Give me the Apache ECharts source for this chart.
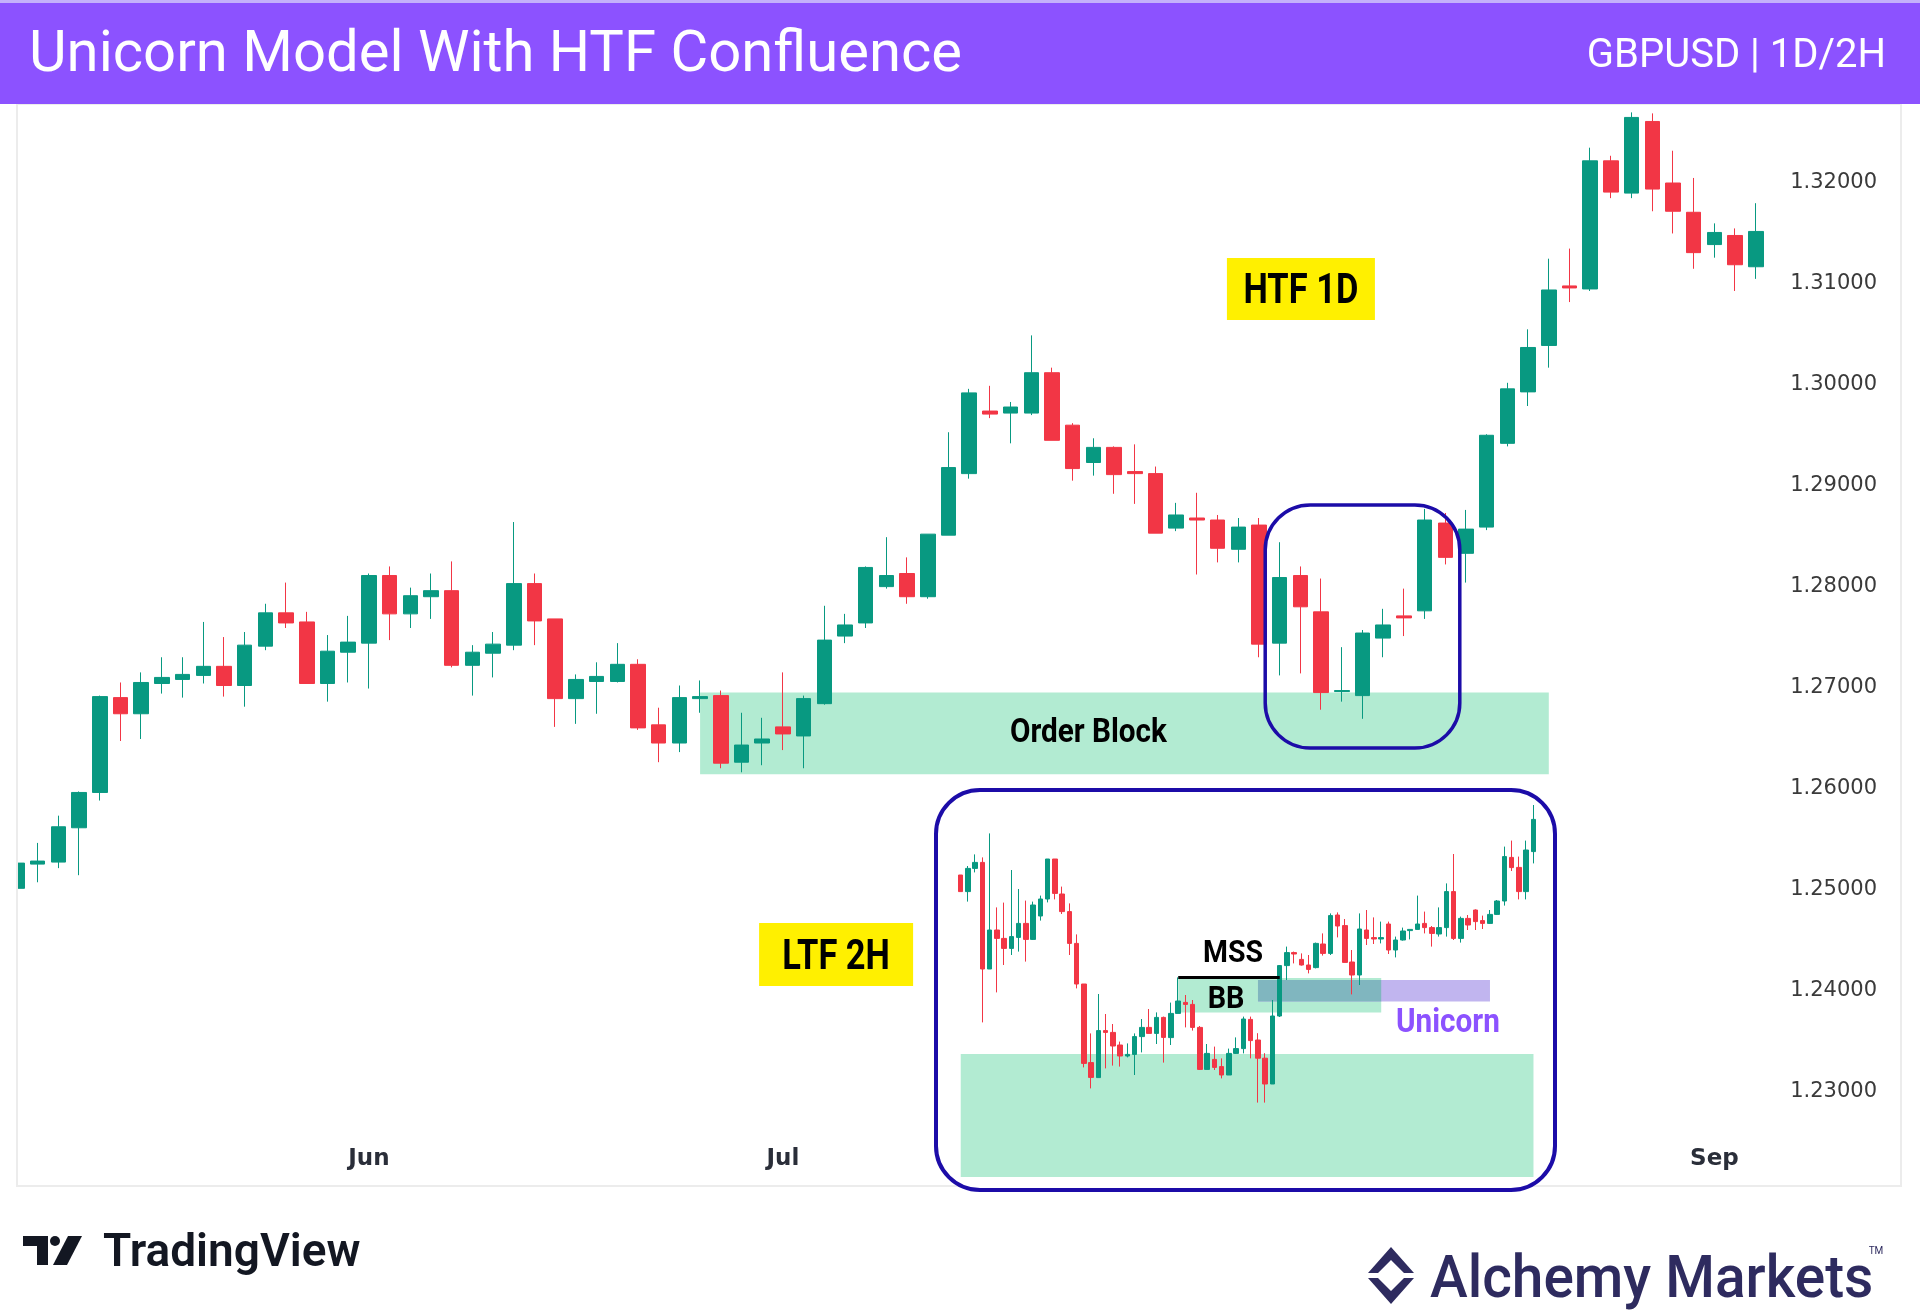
<!DOCTYPE html>
<html>
<head>
<meta charset="utf-8">
<title>Unicorn Model With HTF Confluence</title>
<script src="https://cdn.jsdelivr.net/npm/echarts@6/dist/echarts.min.js"></script>
<style>
  html, body { margin: 0; padding: 0; background: #ffffff; }
  #chart { width: 1920px; height: 1314px; }
</style>
</head>
<body>
<div id="chart"></div>
<script>
'use strict';

// GBPUSD daily, [open, close, low, high], starting 2024-05-09 (weekdays only)
var dailyCandles = [
    [1.2497, 1.2522, 1.2490, 1.2525], [1.2521, 1.2524, 1.2503, 1.2542], [1.2523, 1.2558, 1.2517, 1.2569],
    [1.2557, 1.2592, 1.2510, 1.2593], [1.2592, 1.2687, 1.2584, 1.2688], [1.2686, 1.2670, 1.2643, 1.2701],
    [1.2670, 1.2701, 1.2645, 1.2711], [1.2700, 1.2706, 1.2690, 1.2726], [1.2704, 1.2709, 1.2686, 1.2726],
    [1.2708, 1.2717, 1.2700, 1.2761], [1.2717, 1.2698, 1.2687, 1.2746], [1.2698, 1.2738, 1.2677, 1.2751],
    [1.2737, 1.2770, 1.2733, 1.2779], [1.2770, 1.2760, 1.2755, 1.2800], [1.2761, 1.2700, 1.2700, 1.2771],
    [1.2700, 1.2732, 1.2682, 1.2748], [1.2731, 1.2741, 1.2701, 1.2767], [1.2740, 1.2807, 1.2695, 1.2809],
    [1.2807, 1.2769, 1.2743, 1.2816], [1.2769, 1.2787, 1.2755, 1.2795], [1.2786, 1.2792, 1.2764, 1.2809],
    [1.2792, 1.2718, 1.2716, 1.2821], [1.2718, 1.2731, 1.2688, 1.2738], [1.2730, 1.2739, 1.2706, 1.2751],
    [1.2738, 1.2799, 1.2733, 1.2860], [1.2799, 1.2762, 1.2738, 1.2809], [1.2764, 1.2685, 1.2657, 1.2764],
    [1.2685, 1.2704, 1.2660, 1.2709], [1.2702, 1.2707, 1.2670, 1.2721], [1.2702, 1.2719, 1.2701, 1.2740],
    [1.2719, 1.2656, 1.2654, 1.2724], [1.2659, 1.2641, 1.2622, 1.2676], [1.2641, 1.2686, 1.2632, 1.2698],
    [1.2685, 1.2687, 1.2671, 1.2703], [1.2688, 1.2621, 1.2616, 1.2693], [1.2622, 1.2639, 1.2612, 1.2671],
    [1.2641, 1.2645, 1.2619, 1.2666], [1.2657, 1.2650, 1.2634, 1.2711], [1.2648, 1.2685, 1.2616, 1.2688],
    [1.2680, 1.2743, 1.2679, 1.2777], [1.2747, 1.2758, 1.2740, 1.2769], [1.2760, 1.2815, 1.2755, 1.2816],
    [1.2796, 1.2807, 1.2794, 1.2845], [1.2809, 1.2786, 1.2779, 1.2825], [1.2786, 1.2848, 1.2784, 1.2848],
    [1.2847, 1.2914, 1.2847, 1.2949], [1.2908, 1.2988, 1.2903, 1.2992], [1.2970, 1.2967, 1.2963, 1.2995],
    [1.2968, 1.2974, 1.2938, 1.2979], [1.2968, 1.3008, 1.2966, 1.3045], [1.3008, 1.2941, 1.2941, 1.3013],
    [1.2956, 1.2913, 1.2901, 1.2958], [1.2919, 1.2934, 1.2906, 1.2943], [1.2934, 1.2907, 1.2888, 1.2935],
    [1.2910, 1.2908, 1.2878, 1.2937], [1.2908, 1.2849, 1.2849, 1.2915], [1.2854, 1.2867, 1.2851, 1.2879],
    [1.2864, 1.2862, 1.2808, 1.2889], [1.2862, 1.2834, 1.2820, 1.2867], [1.2833, 1.2855, 1.2820, 1.2864],
    [1.2857, 1.2739, 1.2726, 1.2864], [1.2740, 1.2805, 1.2708, 1.2840], [1.2807, 1.2776, 1.2710, 1.2816],
    [1.2771, 1.2691, 1.2674, 1.2804], [1.2692, 1.2693, 1.2682, 1.2736], [1.2688, 1.2750, 1.2665, 1.2753],
    [1.2745, 1.2758, 1.2726, 1.2774], [1.2767, 1.2765, 1.2747, 1.2794], [1.2772, 1.2862, 1.2764, 1.2873],
    [1.2859, 1.2825, 1.2818, 1.2869], [1.2829, 1.2853, 1.2800, 1.2872], [1.2855, 1.2946, 1.2852, 1.2947],
    [1.2938, 1.2992, 1.2935, 1.2998], [1.2989, 1.3033, 1.2975, 1.3051], [1.3035, 1.3090, 1.3013, 1.3121],
    [1.3094, 1.3092, 1.3078, 1.3131], [1.3091, 1.3218, 1.3089, 1.3231], [1.3218, 1.3187, 1.3181, 1.3223],
    [1.3186, 1.3261, 1.3181, 1.3266], [1.3257, 1.3190, 1.3168, 1.3265], [1.3196, 1.3168, 1.3146, 1.3228],
    [1.3167, 1.3127, 1.3111, 1.3201], [1.3135, 1.3147, 1.3122, 1.3156], [1.3144, 1.3115, 1.3089, 1.3151],
    [1.3113, 1.3148, 1.3101, 1.3176]
];

// 2H inset, [open, close, low, high]
var hourlyCandles = [
    [1.27795, 1.27712, 1.27712, 1.27795], [1.27712, 1.27828, 1.27662, 1.27840], [1.27828, 1.27858, 1.27808, 1.27898],
    [1.27858, 1.27325, 1.27058, 1.27883], [1.27325, 1.27520, 1.27325, 1.28003], [1.27520, 1.27478, 1.27208, 1.27633],
    [1.27478, 1.27428, 1.27345, 1.27657], [1.27428, 1.27487, 1.27395, 1.27820], [1.27483, 1.27553, 1.27412, 1.27725],
    [1.27553, 1.27473, 1.27362, 1.27667], [1.27473, 1.27645, 1.27470, 1.27662], [1.27590, 1.27675, 1.27567, 1.27692],
    [1.27675, 1.27875, 1.27658, 1.27875], [1.27875, 1.27703, 1.27673, 1.27875], [1.27700, 1.27612, 1.27600, 1.27737],
    [1.27612, 1.27453, 1.27395, 1.27653], [1.27453, 1.27250, 1.27228, 1.27498], [1.27250, 1.26853, 1.26833, 1.27250],
    [1.26857, 1.26783, 1.26728, 1.27003], [1.26782, 1.27017, 1.26782, 1.27200], [1.27017, 1.27008, 1.26828, 1.27100],
    [1.27008, 1.26940, 1.26842, 1.27050], [1.26945, 1.26890, 1.26837, 1.26962], [1.26890, 1.26898, 1.26883, 1.26953],
    [1.26898, 1.26987, 1.26795, 1.27003], [1.26987, 1.27033, 1.26908, 1.27075], [1.27033, 1.27003, 1.27003, 1.27125],
    [1.27003, 1.27083, 1.26950, 1.27108], [1.27083, 1.26983, 1.26857, 1.27087], [1.26982, 1.27103, 1.26945, 1.27157],
    [1.27103, 1.27165, 1.27103, 1.27283], [1.27158, 1.27148, 1.27033, 1.27195], [1.27148, 1.27033, 1.27017, 1.27170],
    [1.27033, 1.26823, 1.26820, 1.27040], [1.26823, 1.26903, 1.26823, 1.26950], [1.26873, 1.26833, 1.26820, 1.26937],
    [1.26837, 1.26795, 1.26778, 1.26878], [1.26795, 1.26903, 1.26795, 1.26927], [1.26903, 1.26927, 1.26900, 1.26983],
    [1.26927, 1.27075, 1.26903, 1.27087], [1.27073, 1.26967, 1.26878, 1.27087], [1.26970, 1.26879, 1.26657, 1.27004],
    [1.26879, 1.26750, 1.26657, 1.26904], [1.26750, 1.27090, 1.26750, 1.27170], [1.27090, 1.27342, 1.27085, 1.27345],
    [1.27342, 1.27407, 1.27270, 1.27437], [1.27407, 1.27400, 1.27353, 1.27412], [1.27373, 1.27345, 1.27342, 1.27403],
    [1.27345, 1.27323, 1.27303, 1.27395], [1.27332, 1.27453, 1.27328, 1.27457], [1.27450, 1.27403, 1.27392, 1.27503],
    [1.27403, 1.27592, 1.27395, 1.27603], [1.27595, 1.27540, 1.27483, 1.27608], [1.27542, 1.27358, 1.27358, 1.27575],
    [1.27360, 1.27295, 1.27198, 1.27420], [1.27295, 1.27525, 1.27245, 1.27603], [1.27520, 1.27478, 1.27445, 1.27620],
    [1.27482, 1.27475, 1.27450, 1.27583], [1.27475, 1.27482, 1.27453, 1.27562], [1.27550, 1.27420, 1.27400, 1.27562],
    [1.27420, 1.27470, 1.27383, 1.27487], [1.27470, 1.27515, 1.27467, 1.27532], [1.27517, 1.27523, 1.27473, 1.27523],
    [1.27523, 1.27550, 1.27523, 1.27692], [1.27553, 1.27532, 1.27503, 1.27612], [1.27532, 1.27503, 1.27437, 1.27540],
    [1.27500, 1.27532, 1.27487, 1.27633], [1.27532, 1.27712, 1.27487, 1.27753], [1.27712, 1.27478, 1.27470, 1.27900],
    [1.27478, 1.27578, 1.27457, 1.27587], [1.27578, 1.27545, 1.27520, 1.27595], [1.27620, 1.27562, 1.27520, 1.27623],
    [1.27567, 1.27553, 1.27525, 1.27592], [1.27553, 1.27598, 1.27550, 1.27620], [1.27598, 1.27665, 1.27595, 1.27670],
    [1.27665, 1.27887, 1.27642, 1.27937], [1.27883, 1.27832, 1.27815, 1.27967], [1.27833, 1.27712, 1.27673, 1.27887],
    [1.27712, 1.27920, 1.27673, 1.27967], [1.27912, 1.28073, 1.27853, 1.28145]
];

var monthNames = ['Jan', 'Feb', 'Mar', 'Apr', 'May', 'Jun', 'Jul', 'Aug', 'Sep', 'Oct', 'Nov', 'Dec'];

// zones: [fromIndex, toIndex, topPrice, bottomPrice]
var orderBlock = [33, 74, 1.2691, 1.2610];
var insetOrderBlock = [0, 79, 1.2690, 1.26285];
var breakerBlock = [30, 58, 1.2728, 1.27107];
var fairValueGap = [41, 73, 1.2727, 1.27162];
var unicornZone = [41, 58, 1.2727, 1.27162];
var mssLevel = [30, 44, 1.27283];

var UP = '#089981';
var DOWN = '#f23645';
var MINT = '#b2ebd2';
var BLUE = '#1c0ca8';
var PURPLE = '#8c52ff';

var dates = [];
(function () {
    var d = new Date(Date.UTC(2024, 4, 9));
    while (dates.length < dailyCandles.length) {
        var wd = d.getUTCDay();
        if (wd !== 0 && wd !== 6) {
            dates.push(d.toISOString().slice(0, 10));
        }
        d.setUTCDate(d.getUTCDate() + 1);
    }
})();

var hours = [];
for (var h = 0; h < hourlyCandles.length; h++) {
    hours.push('b' + h);
}

function zoneItem(z, color) {
    return [
        {xAxis: z[0], yAxis: z[2], itemStyle: {color: color}},
        {xAxis: z[1], yAxis: z[3]}
    ];
}

var chart = echarts.init(document.getElementById('chart'), null, {renderer: 'canvas'});

var option = {
    animation: false,
    backgroundColor: '#ffffff',
    grid: [
        {left: 6.65, right: 153.85, top: 103.3, bottom: 126},
        {left: 957.1, right: 382.9, top: 800, bottom: 134}
    ],
    xAxis: [
        {
            type: 'category',
            gridIndex: 0,
            data: dates,
            axisLine: {show: false},
            axisTick: {show: false},
            splitLine: {show: false},
            axisLabel: {
                inside: true,
                margin: 17,
                interval: 0,
                color: '#2a2e39',
                fontFamily: 'DejaVu Sans',
                fontWeight: 'bold',
                fontSize: 23,
                formatter: function (value, index) {
                    if (index === 0) {
                        return '';
                    }
                    var m = +value.slice(5, 7);
                    var prev = +dates[index - 1].slice(5, 7);
                    return m !== prev ? monthNames[m - 1] : '';
                }
            }
        },
        {
            type: 'category',
            gridIndex: 1,
            data: hours,
            show: false
        }
    ],
    yAxis: [
        {
            type: 'value',
            gridIndex: 0,
            position: 'right',
            min: 1.22,
            max: 1.3275,
            interval: 0.01,
            splitLine: {show: false},
            axisLine: {show: false},
            axisTick: {show: false},
            axisLabel: {
                margin: 24,
                verticalAlign: 'top',
                lineHeight: 8,
                color: '#3a3a3a',
                fontFamily: 'DejaVu Sans',
                fontSize: 21,
                formatter: function (v) {
                    if (v < 1.225 || v > 1.325) {
                        return '';
                    }
                    return v.toFixed(5);
                }
            }
        },
        {
            type: 'value',
            gridIndex: 1,
            min: 1.2627,
            max: 1.2817,
            show: false
        }
    ],
    series: [
        {
            name: 'GBPUSD 1D',
            type: 'candlestick',
            xAxisIndex: 0,
            yAxisIndex: 0,
            data: dailyCandles,
            barWidth: 15,
            itemStyle: {color: UP, color0: DOWN, borderColor: UP, borderColor0: DOWN, borderWidth: 1},
            markArea: {
                silent: true,
                z: 1,
                data: [zoneItem(orderBlock, MINT)]
            }
        },
        {
            name: 'GBPUSD 2H',
            type: 'candlestick',
            xAxisIndex: 1,
            yAxisIndex: 1,
            z: 20,
            data: hourlyCandles,
            barWidth: 5,
            itemStyle: {color: UP, color0: DOWN, borderColor: UP, borderColor0: DOWN, borderWidth: 1},
            markArea: {
                silent: true,
                z: 12,
                data: [
                    zoneItem(insetOrderBlock, MINT),
                    zoneItem(breakerBlock, MINT),
                    zoneItem(fairValueGap, '#c1b5ef'),
                    zoneItem(unicornZone, '#80b6bf')
                ]
            },
            markLine: {
                silent: true,
                z: 21,
                symbol: ['none', 'none'],
                label: {show: false},
                lineStyle: {color: '#000000', width: 3, type: 'solid'},
                data: [[
                    {coord: [mssLevel[0], mssLevel[2]]},
                    {coord: [mssLevel[1], mssLevel[2]]}
                ]]
            }
        }
    ]
};

chart.setOption(option);

function place(gridIndex, xIdx, price) {
    var a = chart.convertToPixel({gridIndex: gridIndex}, [0, price]);
    var b = chart.convertToPixel({gridIndex: gridIndex}, [1, price]);
    return [a[0] + xIdx * (b[0] - a[0]), a[1]];
}

function boxBetween(gridIndex, x0, p0, x1, p1) {
    var a = place(gridIndex, x0, p0);
    var b = place(gridIndex, x1, p1);
    return {x: a[0], y: a[1], width: b[0] - a[0], height: b[1] - a[1]};
}

// Roboto 'middle' sits a few px high of the cap centre, hence the +4
function label(pos, text, size, color, sx, z) {
    return {
        type: 'text',
        x: pos[0],
        y: pos[1] + 4,
        scaleX: sx,
        z: z,
        style: {
            text: text,
            font: 'bold ' + size + 'px Roboto',
            fill: color,
            align: 'center',
            verticalAlign: 'middle',
            textAlign: 'center',
            textVerticalAlign: 'middle'
        }
    };
}

function plainText(x, y, text, font, color, align, sx) {
    return {
        type: 'text', z: 51, x: x, y: y, scaleX: sx || 1,
        style: {text: text, font: font, fill: color,
            align: align, verticalAlign: 'middle', textAlign: align, textVerticalAlign: 'middle'}
    };
}

var htfBox = boxBetween(0, 58.45, 1.31217, 65.6, 1.30603);
var ltfBox = boxBetween(0, 35.85, 1.24626, 43.29, 1.24002);
var dailyFocus = boxBetween(0, 60.3, 1.2877, 69.7, 1.2636);

var graphics = [
    // chart frame and clip of the first bar
    {type: 'rect', z: 9, shape: {x: 0, y: 104, width: 17, height: 1084}, style: {fill: '#ffffff'}},
    {type: 'rect', z: 9, shape: {x: 17, y: 104, width: 1884, height: 1082}, style: {fill: 'none', stroke: '#ececec', lineWidth: 2}},

    // header
    {type: 'rect', z: 50, shape: {x: 0, y: 0, width: 1920, height: 104}, style: {fill: PURPLE}},
    {type: 'rect', z: 50, shape: {x: 0, y: 0, width: 1920, height: 3}, style: {fill: '#c4b0fb'}},
    plainText(29, 56, 'Unicorn Model With HTF Confluence', '58px Roboto', '#ffffff', 'left'),
    plainText(1886, 57, 'GBPUSD | 1D/2H', '40px Roboto', '#ffffff', 'right'),

    // annotations on daily chart
    label(place(0, 51.76, 1.26539), 'Order Block', 33, '#000000', 0.9, 6),
    {type: 'rect', z: 5, shape: htfBox, style: {fill: '#fff000'}},
    label([htfBox.x + htfBox.width / 2, htfBox.y + htfBox.height / 2], 'HTF 1D', 42, '#000000', 0.82, 6),
    {type: 'rect', z: 5, shape: ltfBox, style: {fill: '#fff000'}},
    label([ltfBox.x + ltfBox.width / 2, ltfBox.y + ltfBox.height / 2], 'LTF 2H', 42, '#000000', 0.82, 6),
    {
        type: 'rect', z: 8,
        shape: {x: dailyFocus.x, y: dailyFocus.y, width: dailyFocus.width, height: dailyFocus.height, r: 45},
        style: {fill: 'none', stroke: BLUE, lineWidth: 3.5}
    },

    // 2H inset panel
    {
        type: 'rect', z: 10,
        shape: {x: 936, y: 790, width: 619, height: 400, r: 44},
        style: {fill: '#ffffff', stroke: BLUE, lineWidth: 4}
    },
    label(place(1, 37.56, 1.2742), 'MSS', 32, '#000000', 0.89, 30),
    label(place(1, 36.6, 1.2719), 'BB', 32, '#000000', 0.9, 30),
    label(place(1, 67.2, 1.2707), 'Unicorn', 33, PURPLE, 0.9, 30),

    // TradingView logo
    {type: 'polygon', z: 5, shape: {points: [[23, 1236], [48, 1236], [48, 1265], [37, 1265], [37, 1246], [23, 1246]]}, style: {fill: '#131722'}},
    {type: 'circle', z: 5, shape: {cx: 55, cy: 1241, r: 5}, style: {fill: '#131722'}},
    {type: 'polygon', z: 5, shape: {points: [[68, 1236], [82, 1236], [67, 1265], [53, 1265]]}, style: {fill: '#131722'}},
    plainText(103, 1254, 'TradingView', '600 46px Roboto', '#131722', 'left'),

    // Alchemy Markets logo
    {type: 'polygon', z: 5, shape: {points: [[1391, 1247], [1414, 1273], [1404, 1273], [1391, 1260], [1378, 1273], [1368, 1273]]}, style: {fill: '#2e2b5f'}},
    {type: 'polygon', z: 5, shape: {points: [[1368, 1278], [1378, 1278], [1391, 1291], [1404, 1278], [1414, 1278], [1391, 1304]]}, style: {fill: '#2e2b5f'}},
    plainText(1430, 1282, 'Alchemy Markets', '500 60px Roboto', '#2e2b5f', 'left', 0.947),
    plainText(1876, 1251, 'TM', '10px Roboto', '#2e2b5f', 'center')
];

chart.setOption({graphic: graphics});
</script>
</body>
</html>
